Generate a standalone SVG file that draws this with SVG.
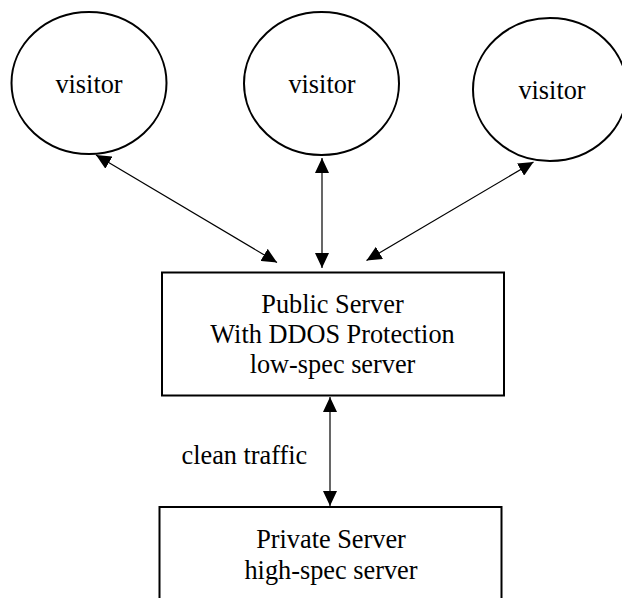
<svg xmlns="http://www.w3.org/2000/svg" width="622" height="598" viewBox="0 0 622 598">
<style>
.shape{fill:#fff;stroke:#000;stroke-width:2}
.conn{stroke:#000;stroke-width:1.2;fill:none;marker-start:url(#ah);marker-end:url(#ah)}
text{font-family:"Liberation Serif","Times New Roman",serif;font-size:26.3px;fill:#000}
.c{text-anchor:middle}
</style>
<defs>
<marker id="ah" viewBox="0 0 15 14" refX="15" refY="7" markerWidth="15" markerHeight="14" markerUnits="userSpaceOnUse" orient="auto-start-reverse">
<path d="M0,0 L15,7 L0,14 z" fill="#000"/>
</marker>
</defs>
<rect width="622" height="598" fill="#fff"/>
<g id="visitor1"><ellipse class="shape" cx="89" cy="83" rx="77.5" ry="71"/><text class="c" x="89" y="93">visitor</text></g>
<g id="visitor2"><ellipse class="shape" cx="321.5" cy="83.5" rx="77.5" ry="71.5"/><text class="c" x="322" y="93">visitor</text></g>
<g id="visitor3"><ellipse class="shape" cx="550" cy="89.5" rx="77" ry="71.5"/><text class="c" x="552" y="99">visitor</text></g>
<g id="public"><rect class="shape" x="162" y="272.5" width="342" height="123"/>
<text class="c" x="332.5" y="313">Public Server</text>
<text class="c" x="332.5" y="343">With DDOS Protection</text>
<text class="c" x="332.5" y="373">low-spec server</text></g>
<g id="private"><rect class="shape" x="159.5" y="507" width="342" height="110"/>
<text class="c" x="331" y="548">Private Server</text>
<text class="c" x="331" y="579">high-spec server</text></g>
<g id="connectors">
<line class="conn" x1="96" y1="155" x2="277" y2="262.5"/>
<line class="conn" x1="322" y1="158" x2="322" y2="268"/>
<line class="conn" x1="533.5" y1="162" x2="366.5" y2="260.5"/>
<line class="conn" x1="330" y1="397" x2="330" y2="506"/>
<text x="181.5" y="464">clean traffic</text>
</g>
</svg>
